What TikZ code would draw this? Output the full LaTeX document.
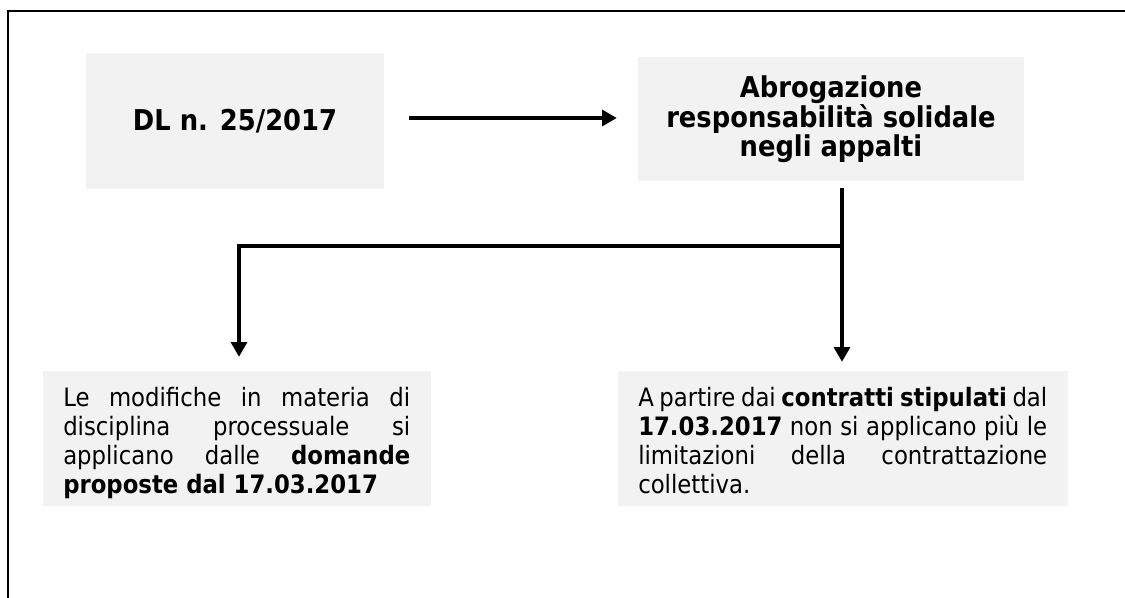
\documentclass[tikz,border=0pt]{standalone}
\usepackage{fontspec}
\setmainfont{DejaVu Sans Condensed}
\usetikzlibrary{arrows.meta}
\definecolor{boxgray}{HTML}{F2F2F2}
\begin{document}
\begin{tikzpicture}[x=0.75pt,y=-0.75pt,
  box/.style={fill=boxgray, draw=none, inner sep=0pt, rectangle},
  conn/.style={line width=2.4pt},
  arr/.style={conn, -{Triangle[length=11pt,width=12pt]}},
  frame/.style={line width=2pt, line join=miter},
  head/.style={font=\bfseries\fontsize{21.5}{21.75}\selectfont, align=center},
  body/.style={font=\fontsize{19}{21.75}\selectfont, inner sep=0pt, anchor=base west}
]
\useasboundingbox (0,0) rectangle (1125,597);
\draw[frame] (8,605) -- (8,11) -- (1130,11);

\node[box, head, minimum width=223.5pt, minimum height=102pt] (b1) at (235,121) {DL n. 25/2017};
\node[box, head, minimum width=289.5pt, minimum height=93pt] (b2) at (831,119)
  {Abrogazione\\responsabilità solidale\\negli appalti};
\node[box, minimum width=291pt, minimum height=101.25pt] (b3) at (237,438.5) {};
\node[box, minimum width=337.5pt, minimum height=101.25pt] (b4) at (843,438.5) {};

\node[body] (t3) at (63,406) {\parbox[t]{260.25pt}{%
  \makebox[\linewidth][s]{Le modifiche in materia di}\\
  \makebox[\linewidth][s]{disciplina processuale si}\\
  \makebox[\linewidth][s]{applicano dalle \textbf{domande}}\\
  \textbf{proposte dal 17.03.2017}}};
\node[body] (t4) at (638,406) {\parbox[t]{306.75pt}{%
  \makebox[\linewidth][s]{A partire dai \textbf{contratti stipulati} dal}\\
  \makebox[\linewidth][s]{\textbf{17.03.2017} non si applicano più le}\\
  \makebox[\linewidth][s]{limitazioni della contrattazione}\\
  collettiva.}};

\coordinate (j) at (842,246);
\coordinate (l) at (239,246);

\draw[arr, shorten <=18.75pt, shorten >=15.75pt] ([yshift=2.25pt]b1.east) -- ([yshift=2.25pt]b1.east -| b2.west);
\draw[arr, shorten >=6.75pt] ([yshift=-5.25pt]b2.south -| j) -- (j |- b4.north);
\draw[arr, shorten >=10.5pt, line join=miter] (j) -- (l) -- (l |- b3.north);
\end{tikzpicture}
\end{document}
